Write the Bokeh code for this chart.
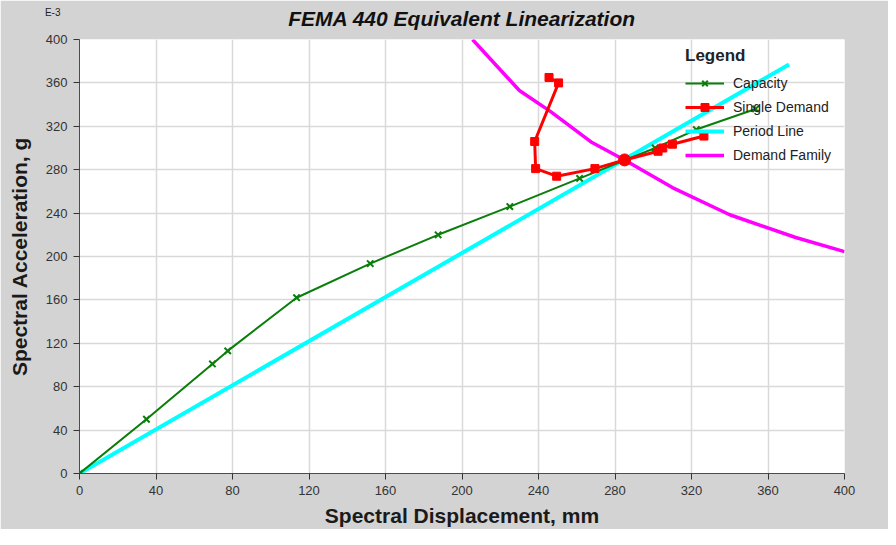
from bokeh.plotting import figure
from bokeh.models import Range1d, Legend, LegendItem, Label, FixedTicker
from bokeh.embed import file_html
from bokeh.resources import INLINE

# ---- data (units: mm and g*1e-3) ----
cap_x = [0, 35, 69.5, 77.5, 113.5, 152, 187.5, 225, 261.5, 301, 322.5, 353.5]
cap_y = [0, 50, 101, 113, 162, 193.5, 220, 246, 272, 300, 317, 336]

dem_x = [245.5, 250.5, 238, 238.5, 249.5, 269.5, 285, 302.5, 305, 310, 326.5]
dem_y = [365, 360, 306, 281, 274, 281, 289, 297, 300, 303.5, 311]

per_x = [0, 371]
per_y = [0, 377]

fam_x = [205.5, 230, 246, 268, 285, 310, 340, 374.5, 400]
fam_y = [400, 353, 334, 305, 289, 263.5, 238.5, 217.5, 204.5]

pp_x = [285]
pp_y = [289]

ticks = [0, 40, 80, 120, 160, 200, 240, 280, 320, 360, 400]

TITLE = "FEMA 440 Equivalent Linearization"
FONT = "Liberation Sans"

p = figure(width=888, height=529, output_backend="svg", toolbar_location=None,
           x_range=Range1d(0, 400), y_range=Range1d(0, 400),
           min_border_left=79, min_border_right=44, min_border_top=39,
           min_border_bottom=56)

p.background_fill_color = "white"
p.border_fill_color = "#d3d3d3"
p.outline_line_color = None
p.title.visible = False

for ax in (p.xaxis[0], p.yaxis[0]):
    ax.ticker = FixedTicker(ticks=ticks)
    ax.axis_line_color = "red"
    ax.axis_line_width = 1
    ax.major_tick_in = 0
    ax.major_tick_out = 6
    ax.major_tick_line_color = "#333333"
    ax.minor_tick_line_color = None
    ax.major_label_text_font = FONT
    ax.major_label_text_font_size = "13px"
    ax.major_label_text_color = "#333333"
    ax.axis_label_text_font = FONT
    ax.axis_label_text_font_size = "21px"
    ax.axis_label_text_font_style = "bold"
    ax.axis_label_text_color = "#1a1a1a"

p.xaxis.axis_label = "Spectral Displacement, mm"
p.yaxis.axis_label = "Spectral Acceleration, g"
p.xaxis.major_label_standoff = 6
p.xaxis.axis_label_standoff = 6
p.yaxis.major_label_standoff = 6
p.yaxis.axis_label_standoff = 12

p.xgrid.ticker = FixedTicker(ticks=ticks)
p.ygrid.ticker = FixedTicker(ticks=ticks)
p.grid.grid_line_color = "#d9d9d9"
p.grid.grid_line_width = 1.5

# ---- glyphs ----
r_per = p.line(per_x, per_y, line_color="#00ffff", line_width=4)
r_fam = p.line(fam_x, fam_y, line_color="#ff00ff", line_width=3.5)
r_cap_l = p.line(cap_x, cap_y, line_color="#0a7d0a", line_width=2)
r_cap_m = p.scatter(cap_x, cap_y, marker="x", size=9, line_color="#0a7d0a", line_width=2)
r_dem_l = p.line(dem_x, dem_y, line_color="red", line_width=3)
r_dem_m = p.scatter(dem_x, dem_y, marker="square", size=8, fill_color="red", line_color="red")
r_pp = p.scatter(pp_x, pp_y, marker="circle", size=12, fill_color="red", line_color="red")

legend = Legend(items=[
    LegendItem(label="Capacity", renderers=[r_cap_l, r_cap_m]),
    LegendItem(label="Single Demand", renderers=[r_dem_l, r_dem_m]),
    LegendItem(label="Period Line", renderers=[r_per]),
    LegendItem(label="Demand Family", renderers=[r_fam]),
], location=(606, 308))
legend.title = "Legend"
legend.title_text_font = FONT
legend.title_text_font_style = "bold"
legend.title_text_font_size = "17px"
legend.title_text_color = "#222222"
legend.title_standoff = 7
legend.label_text_font = FONT
legend.label_text_font_size = "14px"
legend.label_text_color = "#222222"
legend.glyph_width = 39
legend.glyph_height = 20
legend.label_height = 20
legend.spacing = 4
legend.label_standoff = 9
legend.padding = 0
legend.margin = 0
legend.background_fill_alpha = 0
legend.border_line_alpha = 0
p.add_layout(legend)

# chart title, placed in the top side panel (not clipped to the frame)
p.add_layout(Label(x=200, y=419.5, text=TITLE,
                   text_font=FONT, text_font_size="21px", text_font_style="bold italic",
                   text_align="center", text_baseline="middle", text_color="#111111"),
             "above")

# exponent note above the y axis (in the empty right side panel so it is not clipped)
p.add_layout(Label(x=-14, y=425, text="E-3",
                   text_font=FONT, text_font_size="10px",
                   text_align="center", text_baseline="middle", text_color="#222222"),
             "right")

open("out.html", "w").write(file_html(p, INLINE))
